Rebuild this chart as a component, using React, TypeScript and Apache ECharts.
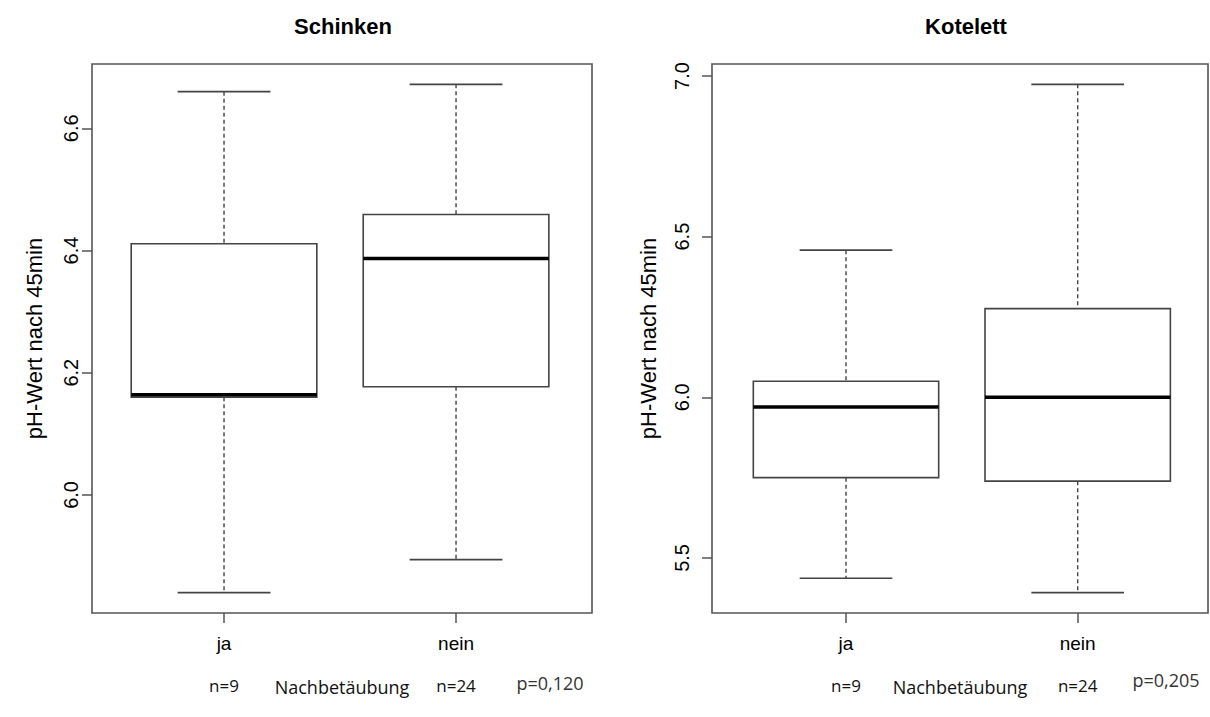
import React, { useEffect, useRef } from 'react';
import * as echarts from 'echarts';

// ---- data ----
const categories = ['ja', 'nein'];
const categoryPositions = [1, 2];
const groupSizes = ['n=9', 'n=24'];
const panelTitles = ['Schinken', 'Kotelett'];
const pValues = ['p=0,120', 'p=0,205'];
const yAxisName = 'pH-Wert nach 45min';
const xAxisName = 'Nachbetäubung';
// [min, Q1, median, Q3, max]
const schinkenStats = [
  [5.840, 6.160, 6.164, 6.411, 6.660],
  [5.894, 6.177, 6.387, 6.459, 6.672],
];
const kotelettStats = [
  [5.437, 5.750, 5.970, 6.050, 6.458],
  [5.392, 5.739, 6.000, 6.276, 6.974],
];
const schinkenTicks = [6.0, 6.2, 6.4, 6.6];
const kotelettTicks = [5.5, 6.0, 6.5, 7.0];

// ---- layout / style ----
const panels = [
  { stats: schinkenStats, ticks: schinkenTicks, left: 92, width: 500, xMin: 0.431, xMax: 2.586,
    labelMargin: 11, nameGap: 47, titleX: 338, pX: 550, pY: 683 },
  { stats: kotelettStats, ticks: kotelettTicks, left: 712, width: 496, xMin: 0.4217, xMax: 2.5624,
    labelMargin: 20, nameGap: 53, titleX: 961, pX: 1166, pY: 680 },
];
const RFONT = '"Liberation Sans", Arial, sans-serif';
const PFONT = '"Open Sans", "Noto Sans", sans-serif';
const FRAME = '#555';
const BOXC = '#444';

function renderBox(params: any, api: any) {
  const x = api.value(0);
  const mn = api.coord([x, api.value(1)]);
  const q1 = api.coord([x, api.value(2)]);
  const md = api.coord([x, api.value(3)]);
  const q3 = api.coord([x, api.value(4)]);
  const mx = api.coord([x, api.value(5)]);
  const cx = md[0];
  const halfW = api.size([0.8, 0])[0] / 2;
  const capHalf = halfW / 2;
  const dashStyle = { stroke: BOXC, lineWidth: 1.4, lineDash: [4, 3] };
  const solid = { stroke: BOXC, lineWidth: 1.6 };
  return {
    type: 'group',
    children: [
      { type: 'line', shape: { x1: cx, y1: mx[1], x2: cx, y2: q3[1] }, style: dashStyle },
      { type: 'line', shape: { x1: cx, y1: q1[1], x2: cx, y2: mn[1] }, style: dashStyle },
      { type: 'line', shape: { x1: cx - capHalf, y1: mx[1], x2: cx + capHalf, y2: mx[1] }, style: solid },
      { type: 'line', shape: { x1: cx - capHalf, y1: mn[1], x2: cx + capHalf, y2: mn[1] }, style: solid },
      { type: 'rect', shape: { x: cx - halfW, y: q3[1], width: 2 * halfW, height: q1[1] - q3[1] },
        style: { fill: '#fff', stroke: BOXC, lineWidth: 1.6 } },
      { type: 'line', shape: { x1: cx - halfW, y1: md[1], x2: cx + halfW, y2: md[1] },
        style: { stroke: '#000', lineWidth: 3.5 } },
    ],
  };
}

export default function App() {
  const ref = useRef<HTMLDivElement>(null);
  useEffect(() => {
    if (!ref.current) return;
    const chart = echarts.init(ref.current, null, { renderer: 'svg' });
    const grids: any[] = [];
    const xAxes: any[] = [];
    const yAxes: any[] = [];
    const series: any[] = [];
    const titles: any[] = [];
    const graphics: any[] = [];
    panels.forEach((p, i) => {
      const lo = Math.min(...p.stats.map((s) => s[0]));
      const hi = Math.max(...p.stats.map((s) => s[4]));
      const pad = 0.04 * (hi - lo);
      grids.push({ left: p.left, top: 64, width: p.width, height: 549, show: true,
        borderColor: FRAME, borderWidth: 1.6, backgroundColor: 'transparent' });
      xAxes.push({
        type: 'value', gridIndex: i, min: p.xMin, max: p.xMax, position: 'bottom',
        axisLine: { show: false },
        axisTick: { show: true, customValues: categoryPositions, length: 10, lineStyle: { color: FRAME, width: 1.5 } },
        axisLabel: { show: true, customValues: categoryPositions,
          formatter: (v: number) => categories[Math.round(v) - 1] ?? '',
          fontFamily: RFONT, fontSize: 19, color: '#000', margin: 21 },
        splitLine: { show: false },
        name: xAxisName, nameLocation: 'middle', nameGap: 65,
        nameTextStyle: { fontFamily: PFONT, fontSize: 18, color: '#111' },
      });
      xAxes.push({
        type: 'value', gridIndex: i, min: p.xMin, max: p.xMax, position: 'bottom', offset: 56,
        axisLine: { show: false }, axisTick: { show: false }, splitLine: { show: false },
        axisLabel: { show: true, customValues: categoryPositions,
          formatter: (v: number) => groupSizes[Math.round(v) - 1] ?? '',
          fontFamily: PFONT, fontSize: 17, color: '#111', margin: 8 },
      });
      yAxes.push({
        type: 'value', gridIndex: i, min: lo - pad, max: hi + pad,
        axisLine: { show: false },
        axisTick: { show: true, customValues: p.ticks, length: 10, lineStyle: { color: FRAME, width: 1.5 } },
        axisLabel: { show: true, customValues: p.ticks, rotate: 90,
          formatter: (v: number) => v.toFixed(1),
          fontFamily: RFONT, fontSize: 20, color: '#000', margin: p.labelMargin },
        splitLine: { show: false },
        name: yAxisName, nameLocation: 'middle', nameGap: p.nameGap,
        nameTextStyle: { fontFamily: RFONT, fontSize: 22, color: '#000' },
      });
      series.push({
        type: 'custom', xAxisIndex: i * 2, yAxisIndex: i,
        renderItem: renderBox,
        encode: { x: 0, y: [1, 2, 3, 4, 5] },
        data: p.stats.map((s, k) => [categoryPositions[k], ...s]),
        clip: false,
      });
      titles.push({ text: panelTitles[i], left: p.titleX, top: 10, textAlign: 'center',
        textStyle: { fontFamily: RFONT, fontSize: 22, fontWeight: 'bold', color: '#000' } });
      graphics.push({ type: 'text', x: p.pX, y: p.pY,
        style: { text: pValues[i], fill: '#333', font: `18px ${PFONT}`, align: 'center', verticalAlign: 'middle' } });
    });
    chart.setOption({
      animation: false,
      backgroundColor: '#fff',
      title: titles,
      grid: grids,
      xAxis: xAxes,
      yAxis: yAxes,
      series,
      graphic: graphics,
    });
    return () => chart.dispose();
  }, []);
  return <div ref={ref} style={{ position: 'fixed', left: 0, top: 0, width: '1210px', height: '717px' }} />;
}
